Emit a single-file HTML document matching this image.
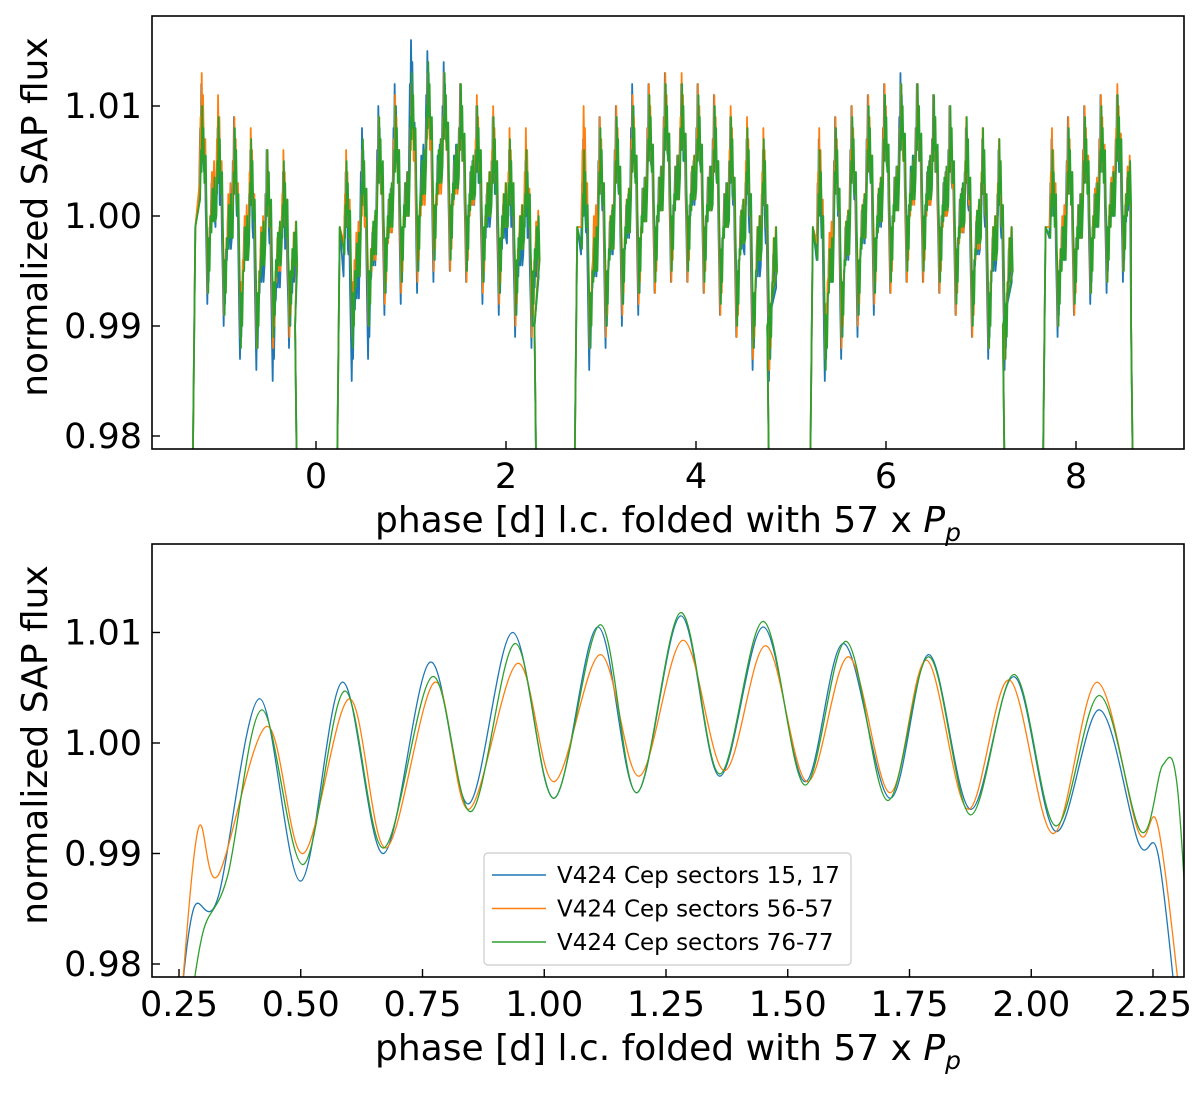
<!DOCTYPE html>
<html><head><meta charset="utf-8"><style>
body{margin:0;background:#fff}
svg text{font-family:"DejaVu Sans","Liberation Sans",sans-serif;fill:#000}
</style></head><body>
<svg id="fig" width="1200" height="1088" xmlns="http://www.w3.org/2000/svg">
<defs>
<clipPath id="c1"><rect x="152" y="16" width="1032" height="433"/></clipPath>
<clipPath id="c2"><rect x="152" y="544" width="1032" height="433"/></clipPath>
</defs>
<g id="top"></g>
<g id="bot"></g>
</svg>
<script>
// ---- top panel data (segment extrema: phase start, cycle peaks/troughs) ----
const topSegStarts=[-1.3,0.22,2.72,5.2,7.65];
const topSegEnds=[-0.2,2.32,4.77,7.25,8.6];
const topPeaksGreen=[[1.010,1.009,1.008,1.007,1.006,1.005],[1.005,1.007,1.009,1.010,1.013,1.014,1.013,1.012,1.010,1.009,1.007,1.006],[1.006,1.008,1.009,1.010,1.011,1.012,1.012,1.011,1.010,1.009,1.008,1.007],[1.006,1.008,1.009,1.010,1.011,1.012,1.012,1.011,1.010,1.009,1.008,1.007],[1.006,1.008,1.009,1.010,1.011,1.012]];
const topTroughsGreen=[[0.993,0.991,0.988,0.988,0.989,0.990],[0.988,0.990,0.993,0.994,0.995,0.996,0.996,0.995,0.994,0.993,0.991,0.990],[0.988,0.990,0.992,0.993,0.994,0.995,0.995,0.994,0.992,0.990,0.988,0.987],[0.986,0.989,0.991,0.993,0.994,0.995,0.995,0.994,0.992,0.990,0.988,0.987],[0.990,0.992,0.993,0.994,0.995,0.996]];
const topPeaksBlue=[[1.012,1.008,1.009,1.006,1.006,1.004],[1.004,1.008,1.010,1.012,1.016,1.015,1.014,1.012,1.010,1.009,1.006,1.005],[1.007,1.009,1.010,1.012,1.012,1.013,1.012,1.012,1.011,1.009,1.007,1.006],[1.007,1.009,1.010,1.011,1.012,1.013,1.012,1.011,1.010,1.008,1.007,1.006],[1.007,1.009,1.010,1.011,1.011,1.013]];
const topTroughsBlue=[[0.992,0.990,0.987,0.986,0.985,0.988],[0.985,0.987,0.991,0.992,0.993,0.994,0.995,0.994,0.992,0.991,0.989,0.988],[0.986,0.988,0.990,0.991,0.993,0.994,0.994,0.993,0.991,0.989,0.986,0.985],[0.985,0.987,0.989,0.991,0.993,0.994,0.994,0.993,0.991,0.989,0.987,0.986],[0.989,0.991,0.992,0.993,0.994,0.995]];
const topPeaksOrange=[[1.013,1.011,1.009,1.008,1.006,1.006],[1.006,1.006,1.009,1.011,1.012,1.013,1.013,1.012,1.011,1.010,1.008,1.008],[1.010,1.009,1.010,1.011,1.012,1.013,1.013,1.012,1.011,1.010,1.009,1.008],[1.008,1.009,1.010,1.011,1.012,1.012,1.012,1.011,1.010,1.009,1.008,1.007],[1.008,1.009,1.010,1.011,1.012,1.016]];
const topTroughsOrange=[[0.993,0.991,0.989,0.988,0.988,0.989],[0.989,0.990,0.992,0.993,0.994,0.995,0.995,0.994,0.993,0.992,0.990,0.989],[0.988,0.989,0.991,0.992,0.993,0.994,0.994,0.993,0.991,0.989,0.987,0.986],[0.987,0.988,0.990,0.992,0.993,0.994,0.994,0.993,0.991,0.989,0.988,0.987],[0.990,0.991,0.993,0.994,0.995,0.995]];
const topXTicks=[0,2,4,6,8];
const yTicks=[0.98,0.99,1.00,1.01];
// ---- bottom panel data ----
const blueX=[0.25,0.28,0.33,0.415,0.50,0.585,0.67,0.765,0.845,0.935,1.02,1.11,1.19,1.28,1.36,1.45,1.535,1.615,1.71,1.79,1.875,1.965,2.05,2.14,2.22,2.26,2.30];
const blueY=[0.975,0.985,0.986,1.004,0.9875,1.0055,0.990,1.0073,0.9945,1.010,0.995,1.0105,0.9955,1.0115,0.997,1.0105,0.9965,1.009,0.995,1.008,0.994,1.006,0.992,1.003,0.991,0.990,0.975];
const orangeX=[0.255,0.29,0.33,0.43,0.505,0.60,0.675,0.775,0.845,0.945,1.02,1.115,1.195,1.285,1.37,1.455,1.54,1.625,1.71,1.785,1.87,1.955,2.045,2.135,2.22,2.26,2.31];
const orangeY=[0.977,0.9923,0.988,1.0015,0.990,1.004,0.9905,1.0055,0.994,1.0072,0.9965,1.008,0.997,1.0093,0.9975,1.0088,0.9965,1.0078,0.9955,1.0075,0.994,1.0057,0.9918,1.0055,0.992,0.9925,0.975];
const greenX=[0.27,0.30,0.35,0.42,0.505,0.59,0.67,0.77,0.85,0.94,1.02,1.115,1.19,1.28,1.36,1.45,1.535,1.62,1.705,1.79,1.875,1.965,2.05,2.14,2.225,2.27,2.30,2.33];
const greenY=[0.975,0.983,0.988,1.003,0.989,1.0047,0.9905,1.006,0.9938,1.009,0.995,1.0107,0.9955,1.0118,0.9972,1.011,0.9962,1.0092,0.9948,1.0078,0.9935,1.0062,0.9925,1.0043,0.992,0.998,0.996,0.975];
const botXTicks=[0.25,0.5,0.75,1.0,1.25,1.5,1.75,2.0,2.25];
const legendLabels=["V424 Cep sectors 15, 17","V424 Cep sectors 56-57","V424 Cep sectors 76-77"];
const colors=["#1f77b4","#ff7f0e","#2ca02c"];

const NS="http://www.w3.org/2000/svg";
function mk(parent,tag,attrs,text){const e=document.createElementNS(NS,tag);for(const k in attrs)e.setAttribute(k,attrs[k]);if(text!==undefined)e.textContent=text;parent.appendChild(e);return e;}
const tx=v=>316+v*95;
const bx=v=>179+(v-0.25)*487;
const ty=v=>216+(1.0-v)*11000;
const by=v=>743+(1.0-v)*11050;

function axes(g,top,xt,xs,fmt,ysc){
  const box=mk(g,'rect',{x:152,y:top,width:1032,height:433,fill:'none',stroke:'#000','stroke-width':1.6});
  
  
  xt.forEach(t=>{const x=xs(t);
    const l=mk(g,'line',{x1:x,x2:x,y1:top+433,y2:top+425,stroke:'#000','stroke-width':1.4});
    
    const s=mk(g,'text',{x:x,y:top+472,'font-size':35,'text-anchor':'middle'},fmt(t));
    });
  yTicks.forEach(t=>{const y=ysc(t);
    const l=mk(g,'line',{x1:152,x2:160,y1:y,y2:y,stroke:'#000','stroke-width':1.4});
    
    const s=mk(g,'text',{x:142,y:y+12,'font-size':35,'text-anchor':'end'},t.toFixed(2));
    });
  const xl=mk(g,'text',{x:668,y:top+516,'font-size':36,'text-anchor':'middle'});
  
  xl.appendChild(document.createTextNode('phase [d] l.c. folded with 57 x '));
  mk(xl,'tspan',{'font-style':'italic'},'P');
  mk(xl,'tspan',{'font-style':'italic','font-size':25,dy:9},'p');
  const yl=mk(g,'text',{x:0,y:0,'font-size':36,'text-anchor':'middle',transform:`translate(47,${top+201}) rotate(-90)`},'normalized SAP flux');
  
}

// top panel
const gt=document.getElementById('top');
const tplot=mk(gt,'g',{'clip-path':'url(#c1)'});
const topSeries=[[topPeaksBlue,topTroughsBlue],[topPeaksOrange,topTroughsOrange],[topPeaksGreen,topTroughsGreen]];
const period=0.172;
topSeries.forEach((s,si)=>{
  const [pk,tr]=s;let d='';
  topSegStarts.forEach((st,k)=>{
    const en=topSegEnds[k];
    d+=`M${tx(st)},${ty(0.975)} L${tx(st+0.03)},${ty(0.999)}`;
    for(let i=0;i<pk[k].length;i++){
      const ph=st+0.07+i*period+si*0.005;
      if(ph>en-0.05)break;
      const P=pk[k][i],T=tr[k][i],M=(P+T)/2;
      const f=[[0,M],[0.01,P-0.004],[0.016,P-0.006],[0.022,P],[0.03,P-0.005],[0.036,P-0.002],[0.045,P-0.007],[0.052,M+0.002],[0.06,M+0.004],[0.068,M-0.001],[0.078,T+0.004],[0.086,T],[0.094,T+0.005],[0.1,T+0.002],[0.11,T+0.007],[0.12,M-0.003],[0.13,M+0.001],[0.14,M-0.002],[0.152,M+0.002],[0.162,M-0.002]];
      f.forEach(q=>{d+=` L${tx(ph+q[0])},${ty(q[1])}`;});
    }
    d+=` L${tx(en-0.02)},${ty(0.99)} L${tx(en)},${ty(0.975)}`;
  });
  const p=mk(tplot,'path',{d:d,fill:'none',stroke:colors[si],'stroke-width':1.8,'stroke-linejoin':'round'});
  
  
});
axes(gt,16,topXTicks,tx,t=>String(t),ty);

// bottom panel
const gb=document.getElementById('bot');
const bplot=mk(gb,'g',{'clip-path':'url(#c2)'});
function smooth(xsA,ysA){
  const P=xsA.map((x,i)=>[bx(x),by(ysA[i])]);
  let d=`M${P[0][0]},${P[0][1]}`;
  for(let i=0;i<P.length-1;i++){
    const p0=P[Math.max(i-1,0)],p1=P[i],p2=P[i+1],p3=P[Math.min(i+2,P.length-1)];
    const c1=[p1[0]+(p2[0]-p0[0])/6,p1[1]+(p2[1]-p0[1])/6];
    const c2=[p2[0]-(p3[0]-p1[0])/6,p2[1]-(p3[1]-p1[1])/6];
    d+=` C${c1[0]},${c1[1]} ${c2[0]},${c2[1]} ${p2[0]},${p2[1]}`;
  }
  return d;
}
[[blueX,blueY],[orangeX,orangeY],[greenX,greenY]].forEach((s,si)=>{
  const p=mk(bplot,'path',{d:smooth(s[0],s[1]),fill:'none',stroke:colors[si],'stroke-width':1.3});
  
  
});
axes(gb,544,botXTicks,bx,t=>t.toFixed(2),by);

// legend
const lg=mk(gb,'g',{});


mk(lg,'rect',{x:484,y:853,width:367,height:112,rx:4,fill:'#fff','fill-opacity':0.85,stroke:'#ccc','stroke-width':1.2});
legendLabels.forEach((lab,i)=>{
  const y=875+i*33.5;
  const e=mk(lg,'g',{});
  
  
  mk(e,'line',{x1:492,x2:546,y1:y,y2:y,stroke:colors[i],'stroke-width':1.5});
  mk(e,'text',{x:557,y:y+8,'font-size':23},lab);
});
</script>
</body></html>
